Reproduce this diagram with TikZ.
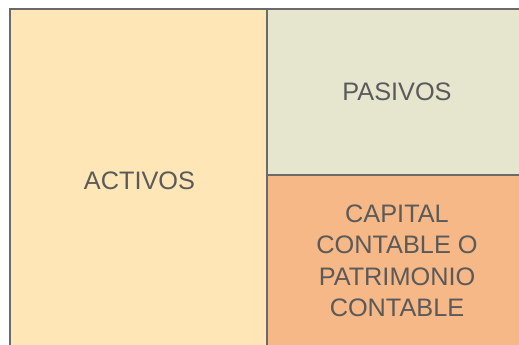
\documentclass[tikz,border=0pt]{standalone}
\usepackage{fontspec}
\setmainfont{Liberation Sans}
\definecolor{actfill}{HTML}{FFE6B6}
\definecolor{pasfill}{HTML}{E6E6CE}
\definecolor{capfill}{HTML}{F6B886}
\definecolor{edge}{HTML}{6A6A6A}
\definecolor{txt}{HTML}{5A5A5A}
\begin{document}
\begin{tikzpicture}[x=1pt,y=-1pt,
  box/.style={draw=edge,line width=2.2pt},
  lbl/.style={text=txt,font=\fontsize{25.3}{31.5}\selectfont,align=center,inner sep=0pt}]
\useasboundingbox (0,0) rectangle (519,345);
\clip (0,0) rectangle (519,345);
\fill[white] (0,0) rectangle (519,345);
\draw[box,fill=actfill] (10,9) rectangle (267,400);
\draw[box,fill=pasfill] (267,9) rectangle (560,175);
\draw[box,fill=capfill] (267,175) rectangle (560,400);
\node[lbl] (activos) at (139.5,181) {ACTIVOS};
\node[lbl] (pasivos) at (397,92) {PASIVOS};
\node[lbl] (capital) at (397,261) {CAPITAL\\CONTABLE O\\PATRIMONIO\\CONTABLE};
\end{tikzpicture}
\end{document}
